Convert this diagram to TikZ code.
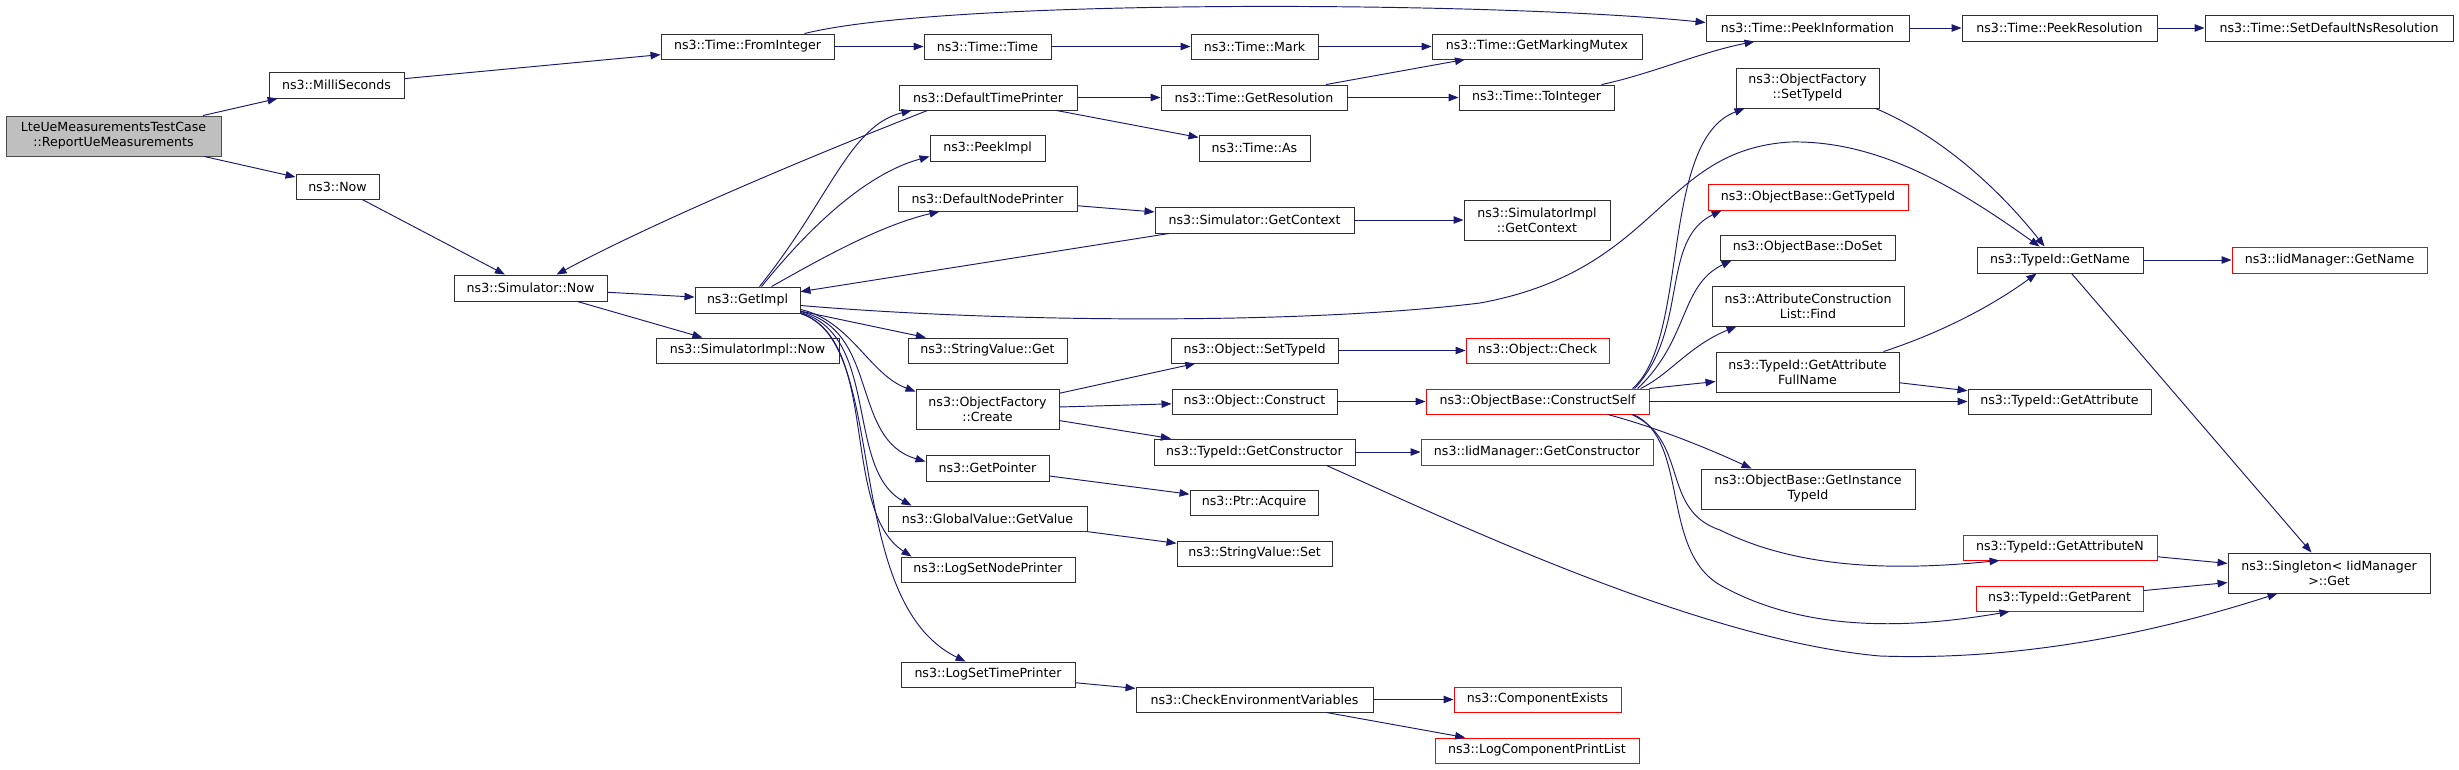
\documentclass[tikz,border=0pt]{standalone}
\usepackage{fontspec}
\setmainfont{DejaVu Sans}
\usetikzlibrary{arrows.meta,calc}
\definecolor{edgec}{HTML}{191970}
\definecolor{boxc}{HTML}{303030}
\begin{document}
\begin{tikzpicture}[x=1pt,y=-1pt,
  box/.style={draw=boxc,line width=0.95pt,inner sep=0pt,align=center,fill=white,
    font=\fontsize{12.6}{15}\selectfont},
  redbox/.style={box,draw=red},
  sz/.style 2 args={minimum width=#1pt,minimum height=#2pt},
  e/.style={draw=edgec,line width=0.95pt,-{Triangle[length=10pt,width=7.5pt]}}]
\useasboundingbox (0,0) rectangle (2459,769);
% nodes
\node[box,fill=black!25,draw=black!70,sz={215}{40}] (lte) at (113.5,136) {LteUeMeasurementsTestCase\\::ReportUeMeasurements};
\node[box,sz={135}{26}] (milli) at (336.5,85) {ns3::MilliSeconds};
\node[box,sz={83}{25}] (now) at (337.5,186.5) {ns3::Now};
\node[box,sz={153}{26}] (simnow) at (530.5,288) {ns3::Simulator::Now};
\node[box,sz={173}{25}] (fromint) at (747.5,46.5) {ns3::Time::FromInteger};
\node[box,sz={127}{25}] (ttime) at (987.5,46.5) {ns3::Time::Time};
\node[box,sz={127}{25}] (mark) at (1254.5,46.5) {ns3::Time::Mark};
\node[box,sz={210}{25}] (mutex) at (1537,46.5) {ns3::Time::GetMarkingMutex};
\node[box,sz={203}{26}] (peekinfo) at (1807.5,28) {ns3::Time::PeekInformation};
\node[box,sz={195}{26}] (peekres) at (2059.5,28) {ns3::Time::PeekResolution};
\node[box,sz={248}{26}] (setdef) at (2329,28) {ns3::Time::SetDefaultNsResolution};
\node[box,sz={178}{25}] (dtp) at (988,97.5) {ns3::DefaultTimePrinter};
\node[box,sz={186}{25}] (getres) at (1254,97.5) {ns3::Time::GetResolution};
\node[box,sz={155}{25}] (toint) at (1536.5,97.5) {ns3::Time::ToInteger};
\node[box,sz={111}{26}] (as) at (1254.5,148) {ns3::Time::As};
\node[box,sz={115}{26}] (peekimpl) at (987.5,148) {ns3::PeekImpl};
\node[box,sz={179}{25}] (dnp) at (987.5,198.5) {ns3::DefaultNodePrinter};
\node[box,sz={199}{26}] (simctx) at (1254.5,220) {ns3::Simulator::GetContext};
\node[box,sz={146}{40}] (implctx) at (1537,220) {ns3::SimulatorImpl\\::GetContext};
\node[box,sz={105}{26}] (getimpl) at (747.5,300) {ns3::GetImpl};
\node[box,sz={183}{25}] (implnow) at (747.5,350.5) {ns3::SimulatorImpl::Now};
\node[box,sz={159}{25}] (svget) at (987.5,350.5) {ns3::StringValue::Get};
\node[box,sz={143}{40}] (ofcreate) at (987.5,409) {ns3::ObjectFactory\\::Create};
\node[box,sz={167}{25}] (objsettid) at (1254.5,350.5) {ns3::Object::SetTypeId};
\node[redbox,sz={143}{25}] (objcheck) at (1537.5,350.5) {ns3::Object::Check};
\node[box,sz={165}{25}] (objconstruct) at (1254.5,401.5) {ns3::Object::Construct};
\node[redbox,sz={223}{25}] (cself) at (1537.5,401.5) {ns3::ObjectBase::ConstructSelf};
\node[box,sz={201}{26}] (getctor) at (1254.5,452) {ns3::TypeId::GetConstructor};
\node[redbox,sz={232}{26}] (iidctor) at (1537,452) {ns3::IidManager::GetConstructor};
\node[box,sz={123}{26}] (getptr) at (987.5,468) {ns3::GetPointer};
\node[box,sz={128}{25}] (acquire) at (1254,502.5) {ns3::Ptr::Acquire};
\node[box,sz={199}{25}] (gvget) at (987.5,518.5) {ns3::GlobalValue::GetValue};
\node[box,sz={155}{25}] (svset) at (1254.5,553.5) {ns3::StringValue::Set};
\node[box,sz={174}{25}] (lsnp) at (988,569.5) {ns3::LogSetNodePrinter};
\node[box,sz={174}{25}] (lstp) at (988,674.5) {ns3::LogSetTimePrinter};
\node[box,sz={237}{25}] (cev) at (1254.5,699.5) {ns3::CheckEnvironmentVariables};
\node[redbox,sz={167}{25}] (compex) at (1537.5,699.5) {ns3::ComponentExists};
\node[redbox,sz={204}{25}] (lcpl) at (1537,750.5) {ns3::LogComponentPrintList};
\node[box,sz={143}{40}] (ofsettid) at (1807.5,88) {ns3::ObjectFactory\\::SetTypeId};
\node[redbox,sz={200}{26}] (obgettid) at (1808,197) {ns3::ObjectBase::GetTypeId};
\node[box,sz={175}{25}] (doset) at (1807.5,247.5) {ns3::ObjectBase::DoSet};
\node[box,sz={192}{40}] (acfind) at (1808,306) {ns3::AttributeConstruction\\List::Find};
\node[box,sz={183}{40}] (gafn) at (1807.5,372) {ns3::TypeId::GetAttribute\\FullName};
\node[box,sz={214}{40}] (instid) at (1808,489) {ns3::ObjectBase::GetInstance\\TypeId};
\node[box,sz={166}{26}] (tgetname) at (2060,260) {ns3::TypeId::GetName};
\node[redbox,sz={195}{26}] (iidname) at (2329.5,260) {ns3::IidManager::GetName};
\node[box,sz={183}{25}] (getattr) at (2059.5,401.5) {ns3::TypeId::GetAttribute};
\node[redbox,sz={194}{25}] (getattrn) at (2060,547.5) {ns3::TypeId::GetAttributeN};
\node[redbox,sz={167}{25}] (getparent) at (2059.5,598.5) {ns3::TypeId::GetParent};
\node[box,sz={202}{40}] (singleton) at (2329,573) {ns3::Singleton< IidManager\\>::Get};
% straight edges
\draw[e] (lte) -- (milli);
\draw[e] (lte) -- (now);
\draw[e] (milli) -- (fromint);
\draw[e] (now) -- (simnow);
\draw[e] (simnow) -- (getimpl);
\draw[e] (simnow) -- (implnow);
\draw[e] (fromint) -- (ttime);
\draw[e] (ttime) -- (mark);
\draw[e] (mark) -- (mutex);
\draw[e] (peekinfo) -- (peekres);
\draw[e] (peekres) -- (setdef);
\draw[e] (dtp) -- (getres);
\draw[e] (dtp) -- (as);
\draw[e] (getres) -- (mutex);
\draw[e] (getres) -- (toint);
\draw[e] (dnp) -- (simctx);
\draw[e] (simctx) -- (implctx);
\draw[e] (simctx) -- (getimpl);
\draw[e] (getimpl) -- (svget);
\draw[e] (ofcreate) -- (objsettid);
\draw[e] (ofcreate) -- (objconstruct);
\draw[e] (ofcreate) -- (getctor);
\draw[e] (objsettid) -- (objcheck);
\draw[e] (objconstruct) -- (cself);
\draw[e] (getctor) -- (iidctor);
\draw[e] (getptr) -- (acquire);
\draw[e] (gvget) -- (svset);
\draw[e] (lstp) -- (cev);
\draw[e] (cev) -- (compex);
\draw[e] (cev) -- (lcpl);
\draw[e] (cself.north east) -- ($(gafn.north west)+(0,30)$);
\draw[e] (cself.east) -- (getattr.west);
\draw[e] (gafn) -- (getattr);
\draw[e] (tgetname) -- (iidname);
\draw[e] (tgetname) -- (singleton);
\draw[e] (getattrn) -- (singleton);
\draw[e] (getparent) -- (singleton);
% curved edges
\draw[e] ($(fromint.north west)+(144,0)$) .. controls +(145,-36) and +(-206,-21) .. ($(peekinfo.north west)+(0,8)$);
\draw[e] ($(toint.north west)+(143,0)$) .. controls +(48,-10) and +(-55,11) .. ($(peekinfo.south west)+(49,0)$);
\draw[e] ($(dtp.south west)+(29,0)$) .. controls +(-128,50) and +(93,-50) .. ($(simnow.north west)+(103,0)$);
\draw[e] ($(getimpl.north west)+(65,0)$) .. controls +(70,-87) and +(-62,15) .. ($(dtp.south west)+(13,0)$);
\draw[e] ($(getimpl.north west)+(67,0)$) .. controls +(38,-47) and +(-70,19) .. ($(peekimpl.south west)+(0,-5)$);
\draw[e] ($(getimpl.north west)+(77,0)$) .. controls +(48,-27) and +(-60,14) .. ($(dnp.south west)+(42,0)$);
\draw[e] ($(getimpl.south east)+(0,-8)$) .. controls +(200,17) and +(-180,22) .. (1480,303)
  .. controls +(180,-33) and +(-130,8) .. (1790,142)
  .. controls +(90,-2) and +(-80,-57) .. ($(tgetname.north west)+(63,0)$);
\draw[e] ($(getimpl.south east)+(0,-4)$) .. controls +(50,11) and +(-46,-17) .. ($(ofcreate.north west)+(0,3)$);
\draw[e] ($(getimpl.south east)+(0,-2)$) .. controls +(80,19) and +(-76,-22) .. ($(getptr.north west)+(0,7)$);
\draw[e] ($(getimpl.south east)+(0,-1)$) .. controls +(80,23) and +(-67,-36) .. ($(gvget.north west)+(24,0)$);
\draw[e] (getimpl.south east) .. controls +(80,27) and +(-72,-47) .. ($(lsnp.north west)+(11,0)$);
\draw[e] (getimpl.south east) .. controls +(90,27) and +(-126,-62) .. ($(lstp.north west)+(65,0)$);
\draw[e] ($(getctor.south west)+(173,0)$) .. controls +(123,55) and +(-180,-16) .. (1880,656)
  .. controls +(170,6) and +(-78,25) .. ($(singleton.south west)+(50,0)$);
\draw[e] ($(cself.north west)+(207,0)$) .. controls +(57,-49) and +(-85,32) .. ($(ofsettid.south west)+(9,0)$);
\draw[e] ($(cself.north west)+(209,0)$) .. controls +(55,-59) and +(-62,30) .. ($(obgettid.south west)+(14,0)$);
\draw[e] ($(cself.north west)+(212,0)$) .. controls +(52,-49) and +(-52,25) .. ($(doset.south west)+(12,0)$);
\draw[e] ($(cself.north west)+(215,0)$) .. controls +(29,-14) and +(-47,19) .. ($(acfind.south west)+(25,0)$);
\draw[e] ($(cself.south west)+(182,0)$) .. controls +(42,11) and +(-52,-24) .. ($(instid.north west)+(51,0)$);
\draw[e] ($(cself.south west)+(206,0)$) .. controls +(58,26) and +(-60,-20) .. (1720,530)
  .. controls +(80,40) and +(-100,10) .. ($(getattrn.south west)+(37,0)$);
\draw[e] ($(cself.south west)+(208,0)$) .. controls +(56,26) and +(-60,-35) .. (1720,585)
  .. controls +(80,45) and +(-110,19) .. ($(getparent.south west)+(34,0)$);
\draw[e] ($(ofsettid.south east)+(-4,0)$) .. controls +(65,27) and +(-45,-57) .. ($(tgetname.north west)+(68,0)$);
\draw[e] ($(gafn.north east)+(-16,0)$) .. controls +(67,-22) and +(-37,27) .. ($(tgetname.south west)+(60,0)$);
\end{tikzpicture}
\end{document}
